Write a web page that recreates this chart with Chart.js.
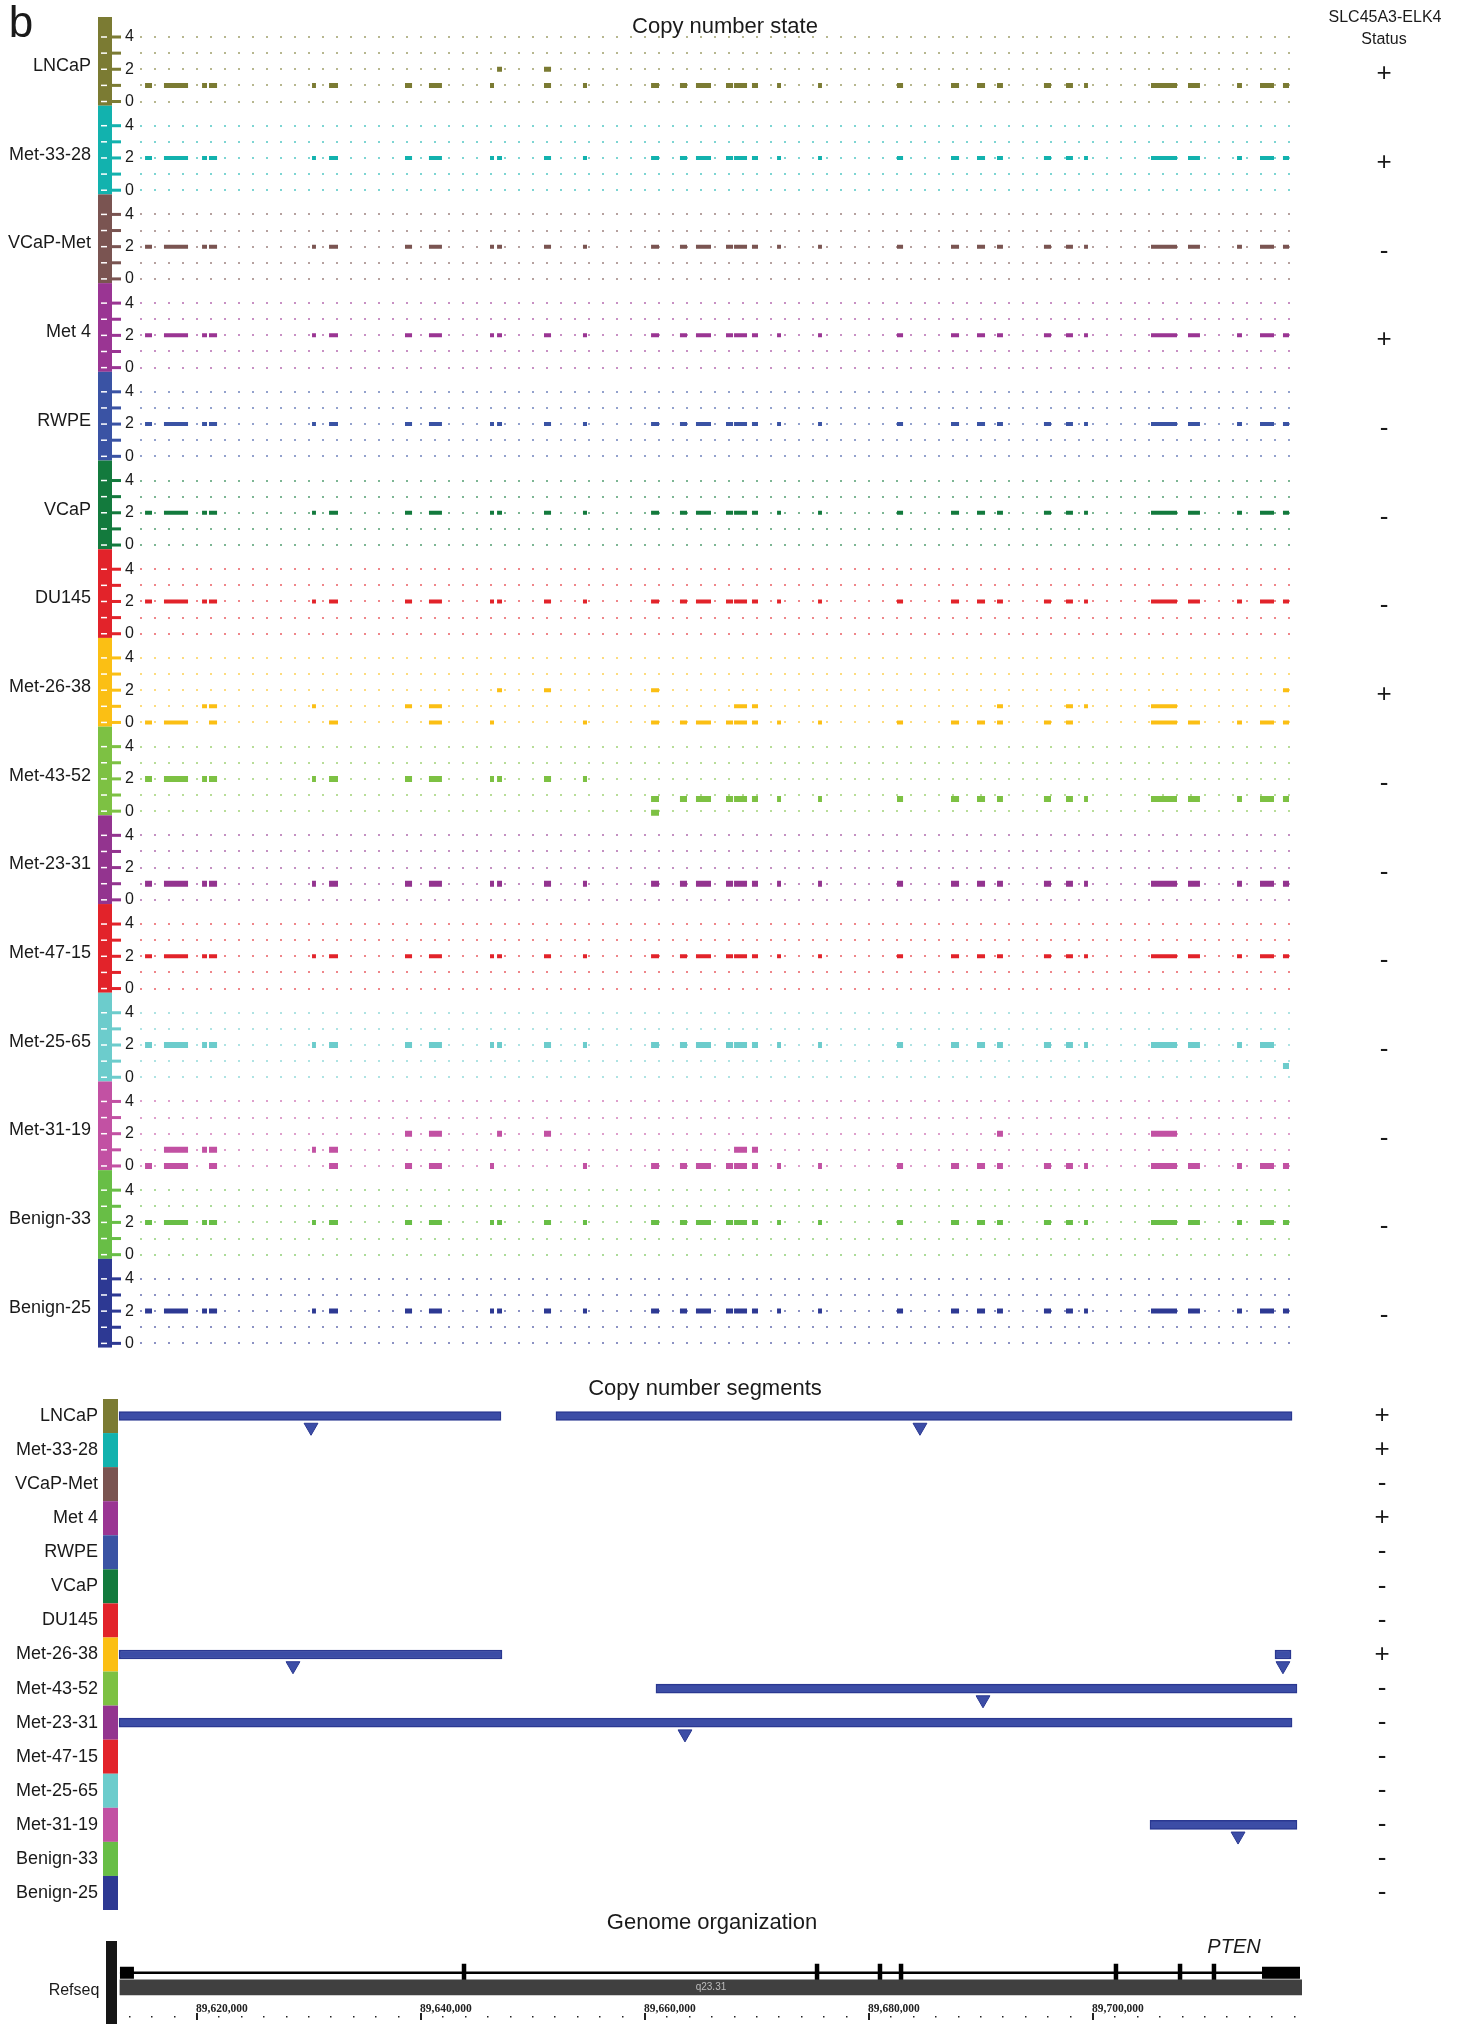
<!DOCTYPE html>
<html>
<head>
<meta charset="utf-8">
<title>PTEN copy number</title>
<script src="https://cdn.jsdelivr.net/npm/chart.js@4.4.1/dist/chart.umd.min.js"></script>
<style>
  html, body { margin: 0; padding: 0; background: #fff; }
  body { position: relative; width: 1461px; height: 2024px; overflow: hidden; font-family: "Liberation Sans", Arial, sans-serif; color: #1a1a1a; }
  canvas { position: absolute; left: 0; }
  .txt { position: absolute; z-index: 2; transform: translate(-50%, -50%); white-space: nowrap; line-height: 1; }
</style>
</head>
<body>
<div class="txt" style="left:21px; top:22px; font-size:44px;">b</div>
<div class="txt" style="left:725px; top:26px; font-size:22px;">Copy number state</div>
<div class="txt" style="left:1385px; top:17px; font-size:16px;">SLC45A3-ELK4</div>
<div class="txt" style="left:1384px; top:39px; font-size:16px;">Status</div>
<div class="txt" style="left:705px; top:1388px; font-size:22px;">Copy number segments</div>
<div class="txt" style="left:712px; top:1922px; font-size:22px;">Genome organization</div>
<div class="txt" style="left:1234px; top:1946px; font-size:20px; font-style:italic;">PTEN</div>
<div class="txt" style="left:74px; top:1990px; font-size:16px;">Refseq</div>

<canvas id="stateChart" width="1461" height="1368" style="top:0"></canvas>
<canvas id="segChart" width="1461" height="560" style="top:1360px"></canvas>
<canvas id="geneChart" width="1461" height="94" style="top:1930px"></canvas>

<script>
// samples, top to bottom
const samples = ["LNCaP", "Met-33-28", "VCaP-Met", "Met 4", "RWPE", "VCaP", "DU145", "Met-26-38",
  "Met-43-52", "Met-23-31", "Met-47-15", "Met-25-65", "Met-31-19", "Benign-33", "Benign-25"];
const fusionStatus = ["+", "+", "-", "+", "-", "-", "-", "+", "-", "-", "-", "-", "-", "-", "-"];

// probe clusters on chr10 (bp), shared by every array
const probeStart = [89615450, 89617140, 89620540, 89621160, 89630360, 89631880, 89638660, 89640800,
  89646250, 89646880, 89651070, 89654550, 89660630, 89663210, 89664640, 89667320, 89668040, 89669640,
  89671880, 89675540, 89682590, 89687410, 89689730, 89691520, 89695710, 89697680, 89699290, 89705270,
  89708570, 89712950, 89715000, 89717050];
const probeEnd = [89616070, 89619290, 89620980, 89621880, 89630710, 89632680, 89639290, 89641960,
  89646610, 89647320, 89651700, 89654910, 89661340, 89663840, 89665980, 89667950, 89669200, 89670180,
  89672230, 89675890, 89683130, 89688130, 89690450, 89692050, 89696340, 89698300, 89699640, 89707590,
  89709640, 89713390, 89716250, 89717590];

// copy number state per probe cluster ([a, b] = cluster split over two states)
const cnLNCaP    = [1,1,1,1,1,1,1,1,1,2,[2,1],1,1,1,1,1,1,1,1,1,1,1,1,1,1,1,1,1,1,1,1,1];
const cnMet3328  = [2,2,2,2,2,2,2,2,2,2,2,2,2,2,2,2,2,2,2,2,2,2,2,2,2,2,2,2,2,2,2,2];
const cnVCaPMet  = [2,2,2,2,2,2,2,2,2,2,2,2,2,2,2,2,2,2,2,2,2,2,2,2,2,2,2,2,2,2,2,2];
const cnMet4     = [2,2,2,2,2,2,2,2,2,2,2,2,2,2,2,2,2,2,2,2,2,2,2,2,2,2,2,2,2,2,2,2];
const cnRWPE     = [2,2,2,2,2,2,2,2,2,2,2,2,2,2,2,2,2,2,2,2,2,2,2,2,2,2,2,2,2,2,2,2];
const cnVCaP     = [2,2,2,2,2,2,2,2,2,2,2,2,2,2,2,2,2,2,2,2,2,2,2,2,2,2,2,2,2,2,2,2];
const cnDU145    = [2,2,2,2,2,2,2,2,2,2,2,2,2,2,2,2,2,2,2,2,2,2,2,2,2,2,2,2,2,2,2,2];
const cnMet2638  = [0,0,1,[1,0],1,0,1,[0,1],0,2,2,0,[0,2],0,0,0,[1,0],[1,0],0,0,0,0,0,[0,1],0,[0,1],1,[0,1],0,0,0,[0,2]];
const cnMet4352  = [2,2,2,2,2,2,2,2,2,2,2,2,[0.75,-0.1],0.75,0.75,0.75,0.75,0.75,0.75,0.75,0.75,0.75,0.75,0.75,0.75,0.75,0.75,0.75,0.75,0.75,0.75,0.75];
const cnMet2331  = [1,1,1,1,1,1,1,1,1,1,1,1,1,1,1,1,1,1,1,1,1,1,1,1,1,1,1,1,1,1,1,1];
const cnMet4715  = [2,2,2,2,2,2,2,2,2,2,2,2,2,2,2,2,2,2,2,2,2,2,2,2,2,2,2,2,2,2,2,2];
const cnMet2565  = [2,2,2,2,2,2,2,2,2,2,2,2,2,2,2,2,2,2,2,2,2,2,2,2,2,2,2,2,2,2,2,0.7];
const cnMet3119  = [0,[0,1],1,[0,1],1,[0,1],[0,2],[0,2],0,2,2,0,0,0,0,0,[0,1],[0,1],0,0,0,0,0,[0,2],0,0,0,[0,2],0,0,0,0];
const cnBenign33 = [2,2,2,2,2,2,2,2,2,2,2,2,2,2,2,2,2,2,2,2,2,2,2,2,2,2,2,2,2,2,2,2];
const cnBenign25 = [2,2,2,2,2,2,2,2,2,2,2,2,2,2,2,2,2,2,2,2,2,2,2,2,2,2,2,2,2,2,2,2];
const copyNumber = [cnLNCaP, cnMet3328, cnVCaPMet, cnMet4, cnRWPE, cnVCaP, cnDU145, cnMet2638,
  cnMet4352, cnMet2331, cnMet4715, cnMet2565, cnMet3119, cnBenign33, cnBenign25];
const stateTicks = [0, 1, 2, 3, 4];

// deleted segments and their breakpoints
const segSample = ["LNCaP", "LNCaP", "Met-26-38", "Met-26-38", "Met-43-52", "Met-23-31", "Met-31-19"];
const segStart = [89613130, 89652140, 89613130, 89716340, 89661070, 89613130, 89705180];
const segEnd = [89647230, 89717860, 89647320, 89717770, 89718300, 89717860, 89718300];
const breakSample = ["LNCaP", "LNCaP", "Met-26-38", "Met-26-38", "Met-43-52", "Met-23-31", "Met-31-19"];
const breakPos = [89630270, 89684640, 89628660, 89717050, 89690270, 89663660, 89713040];

// PTEN refseq
const geneSpan = [89613210, 89718570];
const utrStart = [89613210, 89715180];
const utrEnd = [89614460, 89718570];
const exonPos = [89643930, 89675450, 89681070, 89682950, 89702140, 89707860, 89710890];
const bandName = "q23.31";
const bandSpan = [89613210, 89718750];
const axisStep = 2000;
const labelStep = 20000;

// view windows (bp)
const stateView = [89615000, 89718125];
const lowerView = [89613036, 89718750];

// styles
const sampleColors = ["#7b7b33", "#12b2ae", "#7a5451", "#9a3593", "#3a53a4", "#137a3d", "#e2232a", "#fbbf14",
  "#7dc143", "#93348f", "#e2232a", "#6ccccc", "#c251a3", "#68be46", "#2d3993"];
const markWidths = [5, 4, 4, 4, 4, 4, 4, 4, 6, 6, 4, 6, 6, 5, 5];
const FONT = '"Liberation Sans", Arial, sans-serif';
const SPAN = 5.5;          // vertical room of one track, in state units
const SEG_BLUE = "#3c4da6", SEG_EDGE = "#2a3891";

Chart.defaults.font.family = FONT;
Chart.defaults.animation = false;
Chart.defaults.events = [];
Chart.defaults.plugins.legend.display = false;
Chart.defaults.plugins.tooltip.enabled = false;

function fade(hex, a) {
  const n = parseInt(hex.slice(1), 16);
  return `rgba(${n >> 16}, ${(n >> 8) & 255}, ${n & 255}, ${a})`;
}
const off = k => (samples.length - 1 - k) * SPAN;
const trackOf = v => samples.length - 1 - Math.floor((v + 0.01) / SPAN);

// ---- copy number state ----
const stateSets = samples.map((name, k) => {
  const pts = [];
  copyNumber[k].forEach((v, i) => {
    [].concat(v).forEach(val => {
      pts.push({ x: probeStart[i], y: off(k) + val }, { x: probeEnd[i], y: off(k) + val }, { x: probeEnd[i], y: null });
    });
  });
  return {
    type: "line", label: name, data: pts, showLine: true, spanGaps: false, tension: 0,
    borderColor: sampleColors[k], borderWidth: markWidths[k], borderCapStyle: "butt", pointRadius: 0
  };
});

const trackDecor = {
  id: "trackDecor",
  afterDraw(chart) {
    const { ctx, chartArea, scales: { y } } = chart;
    const L = chartArea.left;
    ctx.save();
    samples.forEach((name, k) => {
      const o = off(k);
      const top = y.getPixelForValue(o + 5.24), bot = y.getPixelForValue(o - 0.26);
      ctx.fillStyle = sampleColors[k];
      ctx.fillRect(L - 42, top, 14, bot - top);
      stateTicks.forEach(v => {
        const py = y.getPixelForValue(o + v);
        ctx.fillStyle = "#fff";
        ctx.fillRect(L - 39, py - 0.75, 6, 1.5);
        ctx.fillStyle = sampleColors[k];
        ctx.fillRect(L - 28, py - 1.5, 9, 3);
      });
      ctx.fillStyle = "#1a1a1a";
      ctx.textBaseline = "middle";
      ctx.font = "18px " + FONT;
      ctx.textAlign = "right";
      ctx.fillText(name, L - 49, y.getPixelForValue(o + 2.2));
      ctx.font = "26px " + FONT;
      ctx.textAlign = "center";
      ctx.fillText(fusionStatus[k], 1384, y.getPixelForValue(o + 1.7));
    });
    ctx.restore();
  }
};

new Chart(document.getElementById("stateChart"), {
  type: "scatter",
  data: { datasets: stateSets },
  options: {
    responsive: false,
    layout: { padding: { top: 17, bottom: 0, right: 166, left: 0 } },
    scales: {
      x: { type: "linear", display: false, min: stateView[0], max: stateView[1] },
      y: {
        type: "linear",
        min: -0.56,
        max: off(0) + 5.24,
        afterBuildTicks: s => {
          const t = [];
          samples.forEach((_, k) => stateTicks.forEach(v => t.push({ value: off(k) + v })));
          s.ticks = t.sort((a, b) => a.value - b.value);
        },
        afterFit: s => { s.width = 140; },
        ticks: {
          autoSkip: false, padding: 6, color: "#1a1a1a", font: { size: 16 },
          callback: v => {
            const r = Math.round(v - (samples.length - 1 - trackOf(v)) * SPAN);
            return r % 2 === 0 ? String(r) : "";
          }
        },
        grid: {
          drawTicks: false, lineWidth: 2,
          color: c => c.tick ? fade(sampleColors[trackOf(c.tick.value)], 0.55) : "transparent"
        },
        border: { display: false, dash: [2, 12] }
      }
    }
  },
  plugins: [trackDecor]
});

// ---- copy number segments ----
const rowOf = name => samples.indexOf(name);

const rowDecor = {
  id: "rowDecor",
  afterDraw(chart) {
    const { ctx, chartArea, scales: { y } } = chart;
    ctx.save();
    samples.forEach((name, k) => {
      const t = y.getPixelForValue(k - 0.5), b = y.getPixelForValue(k + 0.5), m = y.getPixelForValue(k);
      ctx.fillStyle = sampleColors[k];
      ctx.fillRect(chartArea.left - 15, t, 15, b - t);
      ctx.fillStyle = "#1a1a1a";
      ctx.textBaseline = "middle";
      ctx.font = "18px " + FONT;
      ctx.textAlign = "right";
      ctx.fillText(name, chartArea.left - 20, m);
      ctx.font = "26px " + FONT;
      ctx.textAlign = "center";
      ctx.fillText(fusionStatus[k], 1382, m);
    });
    ctx.restore();
  }
};

new Chart(document.getElementById("segChart"), {
  type: "scatter",
  data: {
    datasets: [
      {
        type: "bar", indexAxis: "y",
        data: segStart.map((s, i) => ({ x: [s, segEnd[i]], y: rowOf(segSample[i]) })),
        backgroundColor: SEG_BLUE, borderColor: SEG_EDGE, borderWidth: 1.5, borderSkipped: false, barThickness: 9
      },
      {
        type: "scatter",
        data: breakPos.map((p, i) => ({ x: p, y: rowOf(breakSample[i]) + 0.33 })),
        pointStyle: "triangle", rotation: 180, pointRadius: 8,
        backgroundColor: SEG_BLUE, borderColor: SEG_EDGE, borderWidth: 1
      }
    ]
  },
  options: {
    responsive: false,
    layout: { padding: { top: 39, bottom: 10, left: 118, right: 159 } },
    scales: {
      x: { type: "linear", display: false, offset: false, min: lowerView[0], max: lowerView[1] },
      y: { type: "linear", display: false, offset: false, min: -0.5, max: samples.length - 0.5, reverse: true }
    }
  },
  plugins: [rowDecor]
});

// ---- genome organization ----
const GENE_ROW = 0.564, BAND_ROW = 0.346;

const geneDecor = {
  id: "geneDecor",
  afterDraw(chart) {
    const { ctx, chartArea, scales: { x, y } } = chart;
    ctx.save();
    ctx.fillStyle = "#161616";
    ctx.fillRect(chartArea.left - 12, 11, 11, chart.height - 11);
    ctx.fillStyle = "#bdbdbd";
    ctx.font = "10px " + FONT;
    ctx.textAlign = "center";
    ctx.textBaseline = "middle";
    ctx.fillText(bandName, x.getPixelForValue((bandSpan[0] + bandSpan[1]) / 2), y.getPixelForValue(BAND_ROW));
    const base = chart.height - 10;
    ctx.font = 'bold 11.5px "Liberation Serif", serif';
    ctx.textAlign = "left";
    ctx.textBaseline = "alphabetic";
    for (let p = Math.ceil(x.min / axisStep) * axisStep; p <= x.max; p += axisStep) {
      const px = Math.round(x.getPixelForValue(p));
      ctx.fillStyle = "#222";
      if (p % labelStep === 0) {
        ctx.fillRect(px, base - 1, 2, 7);
        ctx.fillText(p.toLocaleString("en-US"), px, base - 2);
      } else {
        ctx.fillRect(px, base + 2, 1.5, 1.5);
      }
    }
    ctx.restore();
  }
};

const utrPts = [];
utrStart.forEach((s, i) => utrPts.push({ x: s, y: GENE_ROW }, { x: utrEnd[i], y: GENE_ROW }, { x: utrEnd[i], y: null }));

new Chart(document.getElementById("geneChart"), {
  type: "scatter",
  data: {
    datasets: [
      {
        type: "bar", indexAxis: "y",
        data: [{ x: bandSpan, y: BAND_ROW }],
        backgroundColor: "#404040", borderWidth: 0, barThickness: 15
      },
      {
        type: "line", showLine: true,
        data: [{ x: geneSpan[0], y: GENE_ROW }, { x: geneSpan[1], y: GENE_ROW }],
        borderColor: "#000", borderWidth: 2.5, pointRadius: 0
      },
      {
        type: "line", showLine: true, spanGaps: false, data: utrPts,
        borderColor: "#000", borderWidth: 12, borderCapStyle: "butt", pointRadius: 0
      },
      {
        type: "scatter",
        data: exonPos.map(p => ({ x: p, y: GENE_ROW })),
        pointStyle: "line", rotation: 90, pointRadius: 9, borderColor: "#000", borderWidth: 4.5
      }
    ]
  },
  options: {
    responsive: false,
    layout: { padding: { top: 0, bottom: 0, left: 118, right: 159 } },
    scales: {
      x: { type: "linear", display: false, offset: false, min: lowerView[0], max: lowerView[1] },
      y: { type: "linear", display: false, offset: false, min: 0, max: 1 }
    }
  },
  plugins: [geneDecor]
});
</script>
</body>
</html>
